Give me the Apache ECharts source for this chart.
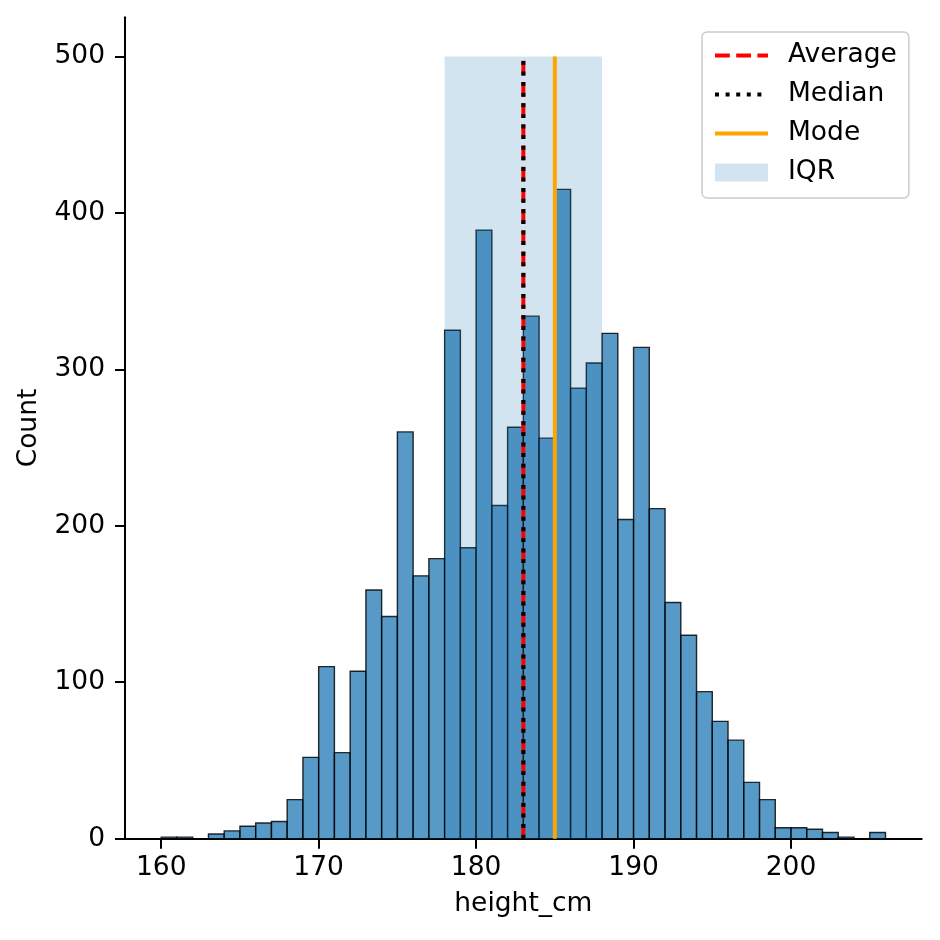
<!DOCTYPE html>
<html>
<head>
<meta charset="utf-8">
<script src="https://cdn.jsdelivr.net/npm/echarts@6/dist/echarts.min.js"></script>
<style>
html,body{margin:0;padding:0;background:#fff;}
#chart{width:940px;height:940px;}
</style>
</head>
<body>
<div id="chart"></div>
<script>
// Histogram bins (left edges, width 1 cm) and counts
const binStarts = [160,161,162,163,164,165,166,167,168,169,
                   170,171,172,173,174,175,176,177,178,179,
                   180,181,182,183,184,185,186,187,188,189,
                   190,191,192,193,194,195,196,197,198,199,
                   200,201,202,203,204,205];
const counts = [1,1,0,3,5,8,10,11,25,52,
                110,55,107,159,142,260,168,179,325,186,
                389,213,263,334,256,415,288,304,323,204,
                314,211,151,130,94,75,63,36,25,7,
                7,6,4,1,0,4];
const binWidth = 1;
// Summary statistics
const averageValue = 183.0;
const medianValue = 183.0;
const modeValue = 185.0;
const iqrRange = [178, 188];
const markerTop = 500;
// Axis ticks
const xTicks = [160, 170, 180, 190, 200];
const yTicks = [0, 100, 200, 300, 400, 500];
const xRange = [157.7, 208.3];
const yRange = [0, 525];

const FONT = 'DejaVu Sans';
const FS = 26.5;

const AVG_STYLE = {color: '#ff0000', width: 4, type: [14.8, 6.4], cap: 'butt'};
const MED_STYLE = {color: '#000000', width: 4, type: [4, 6.6], cap: 'butt'};
const MODE_STYLE = {color: '#ffa500', width: 4, type: 'solid'};

const barData = binStarts.map((s, i) => [s, s + binWidth, counts[i]]);

const chart = echarts.init(document.getElementById('chart'), null, {renderer: 'canvas'});

const option = {
  animation: false,
  backgroundColor: '#ffffff',
  textStyle: {fontFamily: FONT},
  grid: {left: 125, right: 18.3, top: 17.3, bottom: 101.3},
  xAxis: {
    type: 'value',
    min: xRange[0], max: xRange[1],
    name: 'height_cm', nameLocation: 'middle', nameGap: 52,
    nameTextStyle: {fontFamily: FONT, fontSize: FS, color: '#000'},
    axisLine: {show: true, onZero: false, lineStyle: {color: '#000', width: 2}},
    axisTick: {show: true, length: 10, lineStyle: {color: '#000', width: 2}, customValues: xTicks},
    axisLabel: {fontFamily: FONT, fontSize: FS, color: '#000', margin: 16, customValues: xTicks},
    splitLine: {show: false}
  },
  yAxis: {
    type: 'value',
    min: yRange[0], max: yRange[1],
    name: 'Count', nameLocation: 'middle', nameGap: 82, nameRotate: 90,
    nameTextStyle: {fontFamily: FONT, fontSize: FS, color: '#000'},
    axisLine: {show: true, lineStyle: {color: '#000', width: 2}},
    axisTick: {show: true, length: 10, lineStyle: {color: '#000', width: 2}, customValues: yTicks},
    axisLabel: {fontFamily: FONT, fontSize: FS, color: '#000', margin: 20, customValues: yTicks},
    splitLine: {show: false}
  },
  legend: {
    orient: 'vertical',
    left: 702, top: 32,
    selectedMode: false,
    data: [
      {name: 'Average', itemStyle: {opacity: 0}, lineStyle: AVG_STYLE},
      {name: 'Median', itemStyle: {opacity: 0}, lineStyle: MED_STYLE},
      {name: 'Mode', itemStyle: {opacity: 0}, lineStyle: MODE_STYLE},
      {name: 'IQR', icon: 'rect'}
    ],
    itemWidth: 53, itemHeight: 18, itemGap: 12,
    padding: [10, 12, 12, 11],
    backgroundColor: 'rgba(255,255,255,0.8)',
    borderColor: '#cccccc', borderWidth: 1.5, borderRadius: 5,
    textStyle: {fontFamily: FONT, fontSize: FS, color: '#000', padding: [0, 0, 0, 15]}
  },
  series: [
    {
      name: 'Count',
      type: 'custom',
      z: 2,
      data: barData,
      encode: {x: [0, 1], y: 2},
      renderItem: function (params, api) {
        const v = api.value(2);
        if (!v) return null;
        const p0 = api.coord([api.value(0), v]);
        const p1 = api.coord([api.value(1), 0]);
        return {
          type: 'rect',
          shape: {x: p0[0], y: p0[1], width: p1[0] - p0[0], height: p1[1] - p0[1]},
          style: {fill: 'rgba(31,119,180,0.75)', stroke: 'rgba(0,0,0,0.82)', lineWidth: 1.4}
        };
      }
    },
    {
      name: 'IQR',
      type: 'custom',
      z: 3,
      itemStyle: {color: 'rgba(31,119,180,0.2)'},
      data: [[iqrRange[0], iqrRange[1], markerTop]],
      encode: {x: [0, 1], y: 2},
      renderItem: function (params, api) {
        const p0 = api.coord([api.value(0), api.value(2)]);
        const p1 = api.coord([api.value(1), 0]);
        return {
          type: 'rect',
          shape: {x: p0[0], y: p0[1], width: p1[0] - p0[0], height: p1[1] - p0[1]},
          style: {fill: 'rgba(31,119,180,0.2)'}
        };
      }
    },
    {
      name: 'Average', type: 'line', z: 4, symbol: 'none', silent: true,
      data: [[averageValue, 0], [averageValue, markerTop]],
      itemStyle: {color: '#ff0000'},
      lineStyle: AVG_STYLE
    },
    {
      name: 'Median', type: 'line', z: 5, symbol: 'none', silent: true,
      data: [[medianValue, 0], [medianValue, markerTop]],
      itemStyle: {color: '#000000'},
      lineStyle: MED_STYLE
    },
    {
      name: 'Mode', type: 'line', z: 6, symbol: 'none', silent: true,
      data: [[modeValue, 0], [modeValue, markerTop]],
      itemStyle: {color: '#ffa500'},
      lineStyle: MODE_STYLE
    }
  ]
};
chart.setOption(option);
</script>
</body>
</html>
